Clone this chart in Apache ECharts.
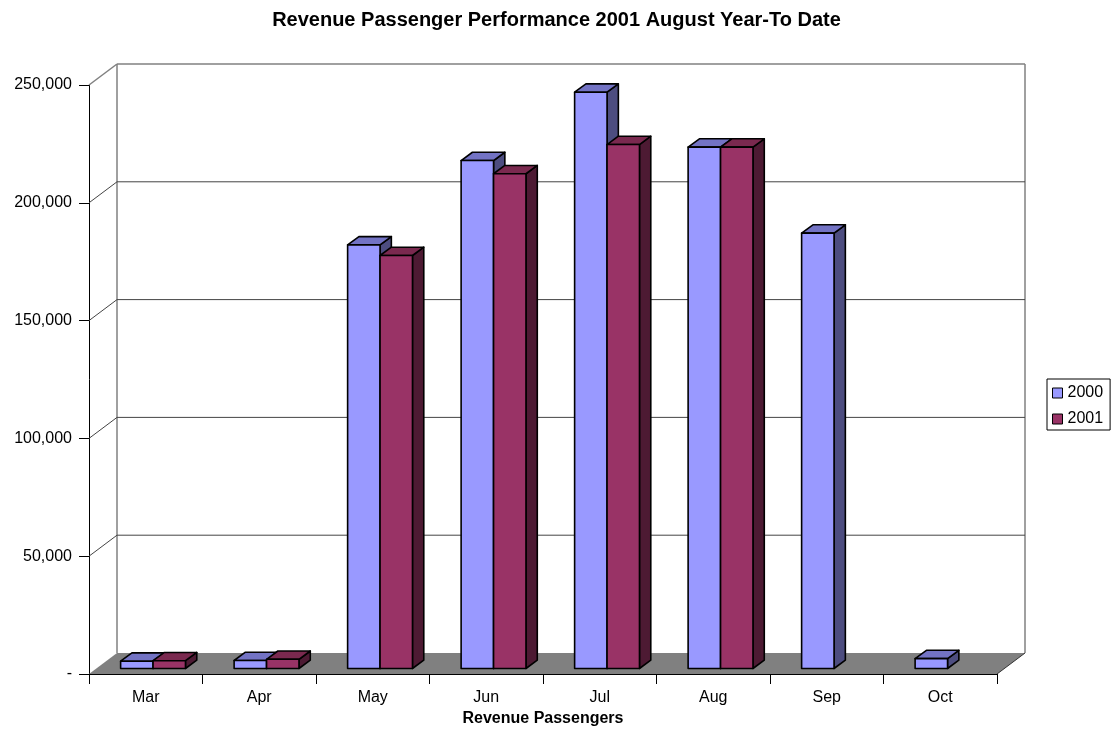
<!DOCTYPE html>
<html>
<head>
<meta charset="utf-8">
<script src="https://cdn.jsdelivr.net/npm/echarts@6/dist/echarts.min.js"></script>
<style>
html,body{margin:0;padding:0;background:#fff;overflow:hidden;}
#chart{width:1113px;height:731px;}
</style>
</head>
<body>
<div id="chart"></div>
<script>
const categories = ['Mar', 'Apr', 'May', 'Jun', 'Jul', 'Aug', 'Sep', 'Oct'];
const values2000 = [3100, 3400, 179800, 215600, 244600, 221300, 184800, 4200];
const values2001 = [3300, 3900, 175300, 210000, 222400, 221300, null, null];
const yTicks = [0, 50000, 100000, 150000, 200000, 250000];
const seriesNames = ['2000', '2001'];

// 3D projection offsets (style)
const DX = 28, DY = -21;        // full floor depth
const FX = 7.3, FY = -5.5;      // bar front face offset
const BX = 11.3, BY = -8.3;     // bar depth
const FONT = 'Liberation Sans, Arial, sans-serif';

const chart = echarts.init(document.getElementById('chart'), null, {renderer: 'canvas'});

function frameRender(params, api) {
  const cs = params.coordSys;
  const x0 = cs.x, x1 = cs.x + cs.width;
  const y0 = api.coord([0, 0])[1];
  const yTop = api.coord([0, yTicks[yTicks.length - 1]])[1];
  const children = [];
  children.push({type: 'line', shape: {x1: x0 + DX, y1: y0 + DY, x2: x0 + DX, y2: yTop + DY},
    style: {stroke: '#808080', lineWidth: 1.5}});
  children.push({type: 'line', shape: {x1: x1 + DX, y1: y0 + DY, x2: x1 + DX, y2: yTop + DY},
    style: {stroke: '#808080', lineWidth: 1.5}});
  yTicks.forEach(function (v, i) {
    if (v === 0) return;
    const yv = api.coord([0, v])[1];
    const isTop = i === yTicks.length - 1;
    const col = isTop ? '#808080' : '#444';
    const lw = isTop ? 1.5 : 1;
    children.push({type: 'line', shape: {x1: x0, y1: yv, x2: x0 + DX, y2: yv + DY},
      style: {stroke: col, lineWidth: lw}});
    children.push({type: 'line', shape: {x1: x0 + DX, y1: yv + DY, x2: x1 + DX, y2: yv + DY},
      style: {stroke: col, lineWidth: lw}});
  });
  children.push({type: 'polygon', shape: {points: [[x0, y0], [x1, y0], [x1 + DX, y0 + DY], [x0 + DX, y0 + DY]]},
    style: {fill: '#808080', stroke: null}});
  children.push({type: 'line', shape: {x1: x1, y1: y0, x2: x1 + DX, y2: y0 + DY},
    style: {stroke: '#333', lineWidth: 1}});
  return {type: 'group', children: children};
}

function makeBarRender(seriesIdx, front, top, side) {
  return function (params, api) {
    const idx = api.value(0), val = api.value(1);
    const base = api.coord([idx, 0]);
    const tp = api.coord([idx, val]);
    const catW = api.size([1, 0])[0];
    const w = catW * 2 / 7;
    const left = seriesIdx === 0 ? base[0] - w : base[0];
    const L = left + FX, R = L + w, T = tp[1] + FY, B = base[1] + FY;
    const st = {stroke: '#000', lineWidth: 1.6, lineJoin: 'round'};
    return {type: 'group', children: [
      {type: 'polygon', shape: {points: [[R, T], [R + BX, T + BY], [R + BX, B + BY], [R, B]]},
        style: Object.assign({fill: side}, st)},
      {type: 'polygon', shape: {points: [[L, T], [R, T], [R + BX, T + BY], [L + BX, T + BY]]},
        style: Object.assign({fill: top}, st)},
      {type: 'rect', shape: {x: L, y: T, width: w, height: B - T},
        style: Object.assign({fill: front}, st)}
    ]};
  };
}

function toData(arr) {
  const out = [];
  arr.forEach(function (v, i) { if (v !== null) out.push([i, v]); });
  return out;
}

const option = {
  backgroundColor: '#fff',
  animation: false,
  title: {
    text: 'Revenue Passenger Performance 2001 August Year-To Date',
    left: 'center', top: 5,
    textStyle: {fontFamily: FONT, fontSize: 20, fontWeight: 'bold', color: '#000'}
  },
  legend: {
    orient: 'vertical', left: 1047, top: 379,
    data: seriesNames,
    icon: 'rect', itemWidth: 10, itemHeight: 10, itemGap: 10,
    padding: [6, 7, 3, 5],
    borderColor: '#000', borderWidth: 1,
    itemStyle: {borderColor: '#000', borderWidth: 1},
    textStyle: {fontFamily: FONT, fontSize: 16, color: '#000'}
  },
  grid: {left: 89, right: 116, top: 85, bottom: 57, containLabel: false, outerBoundsMode: 'none'},
  xAxis: {
    type: 'category', data: categories,
    boundaryGap: true,
    axisLine: {lineStyle: {color: '#000', width: 1}},
    axisTick: {show: true, length: 10, lineStyle: {color: '#000'}},
    axisLabel: {fontFamily: FONT, fontSize: 16, color: '#000', margin: 16},
    name: 'Revenue Passengers', nameLocation: 'middle', nameGap: 44,
    nameTextStyle: {fontFamily: FONT, fontSize: 16, fontWeight: 'bold', color: '#000', verticalAlign: 'middle'},
    splitLine: {show: false}
  },
  yAxis: {
    type: 'value', min: 0, max: 250000, interval: 50000,
    axisLine: {show: true, lineStyle: {color: '#000', width: 1}},
    axisTick: {show: true, length: 10, lineStyle: {color: '#000'}},
    axisLabel: {fontFamily: FONT, fontSize: 16, color: '#000', margin: 17,
      formatter: function (v) { return v === 0 ? '-' : v.toLocaleString('en-US'); }},
    splitLine: {show: false}
  },
  series: [
    {type: 'custom', name: 'frame', renderItem: frameRender, data: [[0, 0]], z: 1, silent: true, clip: false},
    {type: 'custom', name: '2000', renderItem: makeBarRender(0, '#9999FF', '#7373C4', '#4D4D80'),
      data: toData(values2000), z: 2, clip: false,
      itemStyle: {color: '#9999FF', borderColor: '#000', borderWidth: 1}},
    {type: 'custom', name: '2001', renderItem: makeBarRender(1, '#993366', '#7A294F', '#4D1A33'),
      data: toData(values2001), z: 3, clip: false,
      itemStyle: {color: '#993366', borderColor: '#000', borderWidth: 1}}
  ]
};
chart.setOption(option);
</script>
</body>
</html>
